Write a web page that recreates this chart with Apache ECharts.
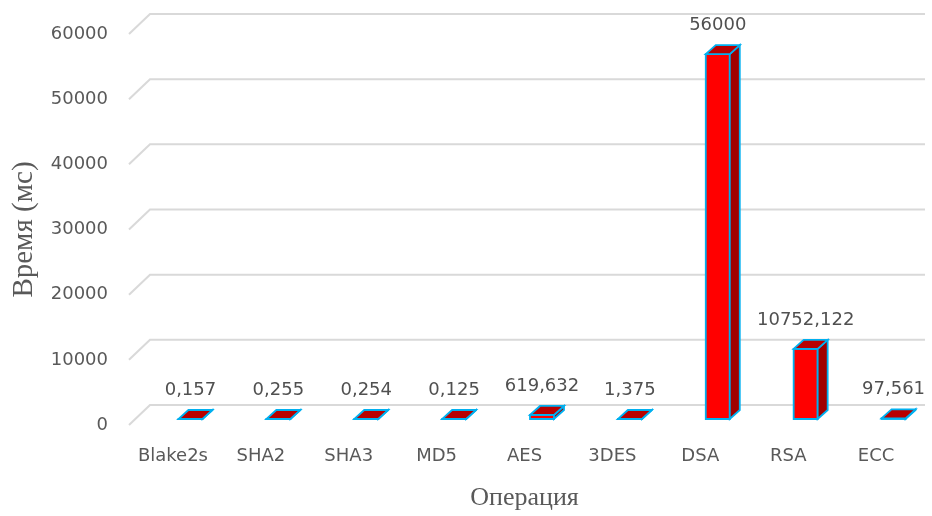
<!DOCTYPE html>
<html>
<head>
<meta charset="utf-8">
<script src="https://cdn.jsdelivr.net/npm/echarts@6/dist/echarts.min.js"></script>
<style>
  html, body { margin: 0; padding: 0; background: #fff; }
  #chart { width: 932px; height: 516px; }
</style>
</head>
<body>
<div id="chart"></div>
<script>
// данные
var categories = ['Blake2s', 'SHA2', 'SHA3', 'MD5', 'AES', '3DES', 'DSA', 'RSA', 'ECC'];
var timeValues = [0.157, 0.255, 0.254, 0.125, 619.632, 1.375, 56000, 10752.122, 97.561];
var yTicks = [0, 10000, 20000, 30000, 40000, 50000, 60000];

var chart = echarts.init(document.getElementById('chart'));

// смещение задней стенки (псевдо-3D)
var wallDx = 21, wallDy = -20;

function fmt(v) {
  return String(v).replace('.', ',');
}

// линии сетки: диагональ + горизонталь на задней стенке
function renderGrid(params, api) {
  var cs = params.coordSys;
  var y = api.coord([0, api.value(1)])[1];
  var x0 = cs.x;
  return {
    type: 'polyline',
    shape: { points: [[x0, y], [x0 + wallDx, y + wallDy], [cs.x + cs.width + 5, y + wallDy]] },
    style: { stroke: '#d9d9d9', lineWidth: 2, fill: null },
    silent: true
  };
}

// столбик-параллелепипед
function renderBar(params, api) {
  var i = api.value(0), v = api.value(1);
  var base = api.coord([i, 0]);
  var top = api.coord([i, v]);
  var w = 24, dx = 10, dy = -9;
  var x0 = base[0] + 5.5;
  var yb = base[1] - 6, yt = top[1] - 6;
  var edge = '#00b0f0';
  return {
    type: 'group',
    children: [
      {
        type: 'rect',
        shape: { x: x0, y: yt, width: w, height: yb - yt },
        style: { fill: '#ff0000', stroke: edge, lineWidth: 1.8 }
      },
      {
        type: 'polygon',
        shape: { points: [[x0 + w, yt], [x0 + w, yb], [x0 + w + dx, yb + dy], [x0 + w + dx, yt + dy]] },
        style: { fill: '#a00000', stroke: edge, lineWidth: 1.8 }
      },
      {
        type: 'polygon',
        shape: { points: [[x0, yt], [x0 + w, yt], [x0 + w + dx, yt + dy], [x0 + dx, yt + dy]] },
        style: { fill: '#b80000', stroke: edge, lineWidth: 1.8 }
      },
      {
        type: 'text',
        style: {
          x: x0 + w / 2, y: yt - 29,
          text: fmt(v),
          align: 'center', verticalAlign: 'middle',
          font: '18px "DejaVu Sans"', fill: '#505050'
        }
      }
    ]
  };
}

var option = {
  backgroundColor: '#ffffff',
  animation: false,
  grid: { left: 129, right: 12, top: 34, bottom: 91 },
  xAxis: {
    type: 'category',
    data: categories,
    axisLine: { show: false },
    axisTick: { show: false },
    axisLabel: { interval: 0, margin: 22, fontSize: 18, fontFamily: 'DejaVu Sans', color: '#595959' },
    name: 'Операция',
    nameLocation: 'middle',
    nameGap: 60,
    nameTextStyle: { fontSize: 26, fontFamily: 'Liberation Serif', color: '#595959' }
  },
  yAxis: {
    type: 'value',
    min: 0, max: 60000, interval: 10000,
    axisLine: { show: false },
    axisTick: { show: false },
    splitLine: { show: false },
    axisLabel: {
      margin: 21, fontSize: 18, fontFamily: 'DejaVu Sans', color: '#595959',
      formatter: function (v) { return String(v); }
    },
    name: 'Время (мс)',
    nameLocation: 'middle',
    nameGap: 90,
    nameTextStyle: { fontSize: 29, fontFamily: 'Liberation Serif', color: '#595959' }
  },
  series: [
    {
      type: 'custom',
      renderItem: renderGrid,
      data: yTicks.map(function (t) { return [0, t]; }),
      clip: false,
      silent: true,
      z: 1
    },
    {
      type: 'custom',
      renderItem: renderBar,
      data: timeValues.map(function (v, i) { return [i, v]; }),
      clip: false,
      z: 2
    }
  ]
};

chart.setOption(option);
</script>
</body>
</html>
